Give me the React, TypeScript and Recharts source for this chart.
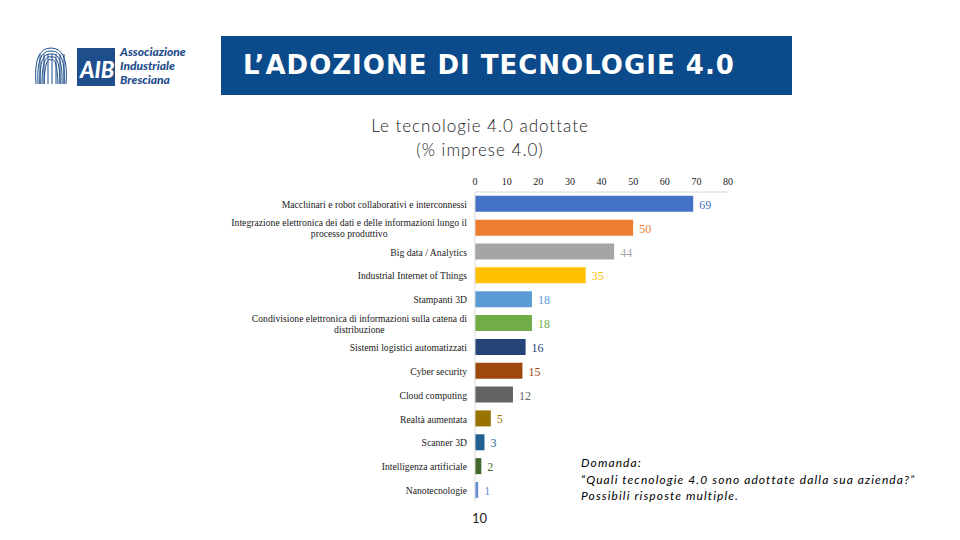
import React from 'react';
import { BarChart, Bar, XAxis, YAxis, Cell } from 'recharts';

const categories = [
  'Macchinari e robot collaborativi e interconnessi',
  'Integrazione elettronica dei dati e delle informazioni lungo il processo produttivo',
  'Big data / Analytics',
  'Industrial Internet of Things',
  'Stampanti 3D',
  'Condivisione elettronica di informazioni sulla catena di distribuzione',
  'Sistemi logistici automatizzati',
  'Cyber security',
  'Cloud computing',
  'Realtà aumentata',
  'Scanner 3D',
  'Intelligenza artificiale',
  'Nanotecnologie',
];
const values = [69, 50, 44, 35, 18, 18, 16, 15, 12, 5, 3, 2, 1];
const barColors = [
  '#4472C4', '#ED7D31', '#A5A5A5', '#FFC000', '#5B9BD5', '#70AD47',
  '#264478', '#9E480E', '#636363', '#997300', '#255E91', '#43682B', '#698ED0',
];
const xTicks = [0, 10, 20, 30, 40, 50, 60, 70, 80];

const data = categories.map((name, i) => ({ name, value: values[i] }));

const SERIF = '"Liberation Serif", "Times New Roman", serif';
const LABEL_FONT_SIZE = 9.7;
const LABEL_MAX_W = 248;

let ctx: CanvasRenderingContext2D | null = null;
function wrap(text: string): { lines: string[]; width: number } {
  if (!ctx && typeof document !== 'undefined') ctx = document.createElement('canvas').getContext('2d');
  if (!ctx) return { lines: [text], width: 0 };
  ctx.font = `${LABEL_FONT_SIZE}px "Liberation Serif"`;
  const words = text.split(' ');
  const lines: string[] = [];
  let cur = '';
  for (const w of words) {
    const t = cur ? cur + ' ' + w : w;
    if (cur && ctx.measureText(t).width > LABEL_MAX_W) {
      lines.push(cur);
      cur = w;
    } else cur = t;
  }
  if (cur) lines.push(cur);
  const width = Math.max(...lines.map((l) => ctx!.measureText(l).width));
  return { lines, width };
}

const CategoryTick = (props: any) => {
  const { x, y, payload } = props;
  const { lines, width } = wrap(String(payload.value));
  const lh = 11;
  const multi = lines.length > 1;
  const startY = y - ((lines.length - 1) * lh) / 2;
  const tx = multi ? x - width / 2 : x;
  return (
    <text
      x={tx}
      y={startY}
      textAnchor={multi ? 'middle' : 'end'}
      dominantBaseline="central"
      fontFamily={SERIF}
      fontSize={LABEL_FONT_SIZE}
      fill="#222"
    >
      {lines.map((l, i) => (
        <tspan key={i} x={tx} y={startY + i * lh}>
          {l}
        </tspan>
      ))}
    </text>
  );
};

const ValueLabel = (props: any) => {
  const { x, y, width, height, value, index } = props;
  return (
    <text
      x={x + width + 6}
      y={y + height / 2 + 1}
      dominantBaseline="central"
      fontFamily={SERIF}
      fontSize={12}
      fill={barColors[index]}
    >
      {value}
    </text>
  );
};

const Logo = () => (
  <svg width={170} height={50} style={{ position: 'absolute', left: 30, top: 40 }}>
    <g fill="none" stroke="#1F4E8C" strokeWidth={1}>
      {[0, 1, 2, 3, 4].map((k) => (
        <path key={k} d={`M ${6 + k * 2} 44 Q ${3 + k * 3} ${8 + k * 2} ${21} ${8 + k * 3} Q ${39 - k * 3} ${8 + k * 2} ${36 - k * 2} 44`} />
      ))}
      {[0, 1, 2, 3, 4, 5, 6].map((k) => (
        <line key={'v' + k} x1={10 + k * 4} y1={14} x2={10 + k * 4} y2={44} />
      ))}
    </g>
    <rect x={47} y={8} width={38} height={38} fill="#1F4E8C" />
    <text x={50} y={38} fontFamily="Lato, sans-serif" fontWeight={900} fontStyle="italic" fontSize={22} fill="#fff">
      AIB
    </text>
    <g fontFamily="Lato, sans-serif" fontWeight={900} fontStyle="italic" fontSize={12} fill="#1F4E8C">
      <text x={90} y={16}>Associazione</text>
      <text x={90} y={30}>Industriale</text>
      <text x={90} y={44}>Bresciana</text>
    </g>
  </svg>
);

export default function App() {
  return (
    <div style={{ position: 'absolute', left: 0, top: 0, width: 960, height: 540, background: '#fff', overflow: 'hidden' }}>
      <Logo />
      <div
        style={{
          position: 'absolute', left: 221, top: 36, width: 571, height: 59, background: '#0B4A8B',
        }}
      >
        <div
          style={{
            position: 'absolute', left: 22, top: 13, color: '#fff', fontFamily: '"DejaVu Sans", sans-serif',
            fontWeight: 700, fontSize: 26, lineHeight: '32px', letterSpacing: 1, whiteSpace: 'nowrap',
          }}
        >
          L’ADOZIONE DI TECNOLOGIE 4.0
        </div>
      </div>
      <div
        style={{
          position: 'absolute', left: 280, top: 114, width: 400, textAlign: 'center', fontFamily: 'Lato, sans-serif',
          fontWeight: 300, fontSize: 17, lineHeight: '24px', letterSpacing: 1, color: '#222',
        }}
      >
        Le tecnologie 4.0 adottate
        <br />
        (% imprese 4.0)
      </div>

      <div style={{ position: 'absolute', left: 0, top: 160 }}>
        <BarChart
          width={800}
          height={345}
          data={data}
          layout="vertical"
          margin={{ top: 0, right: 72, bottom: 3, left: 0 }}
          barCategoryGap="16%"
        >
          <XAxis
            type="number"
            orientation="top"
            domain={[0, 80]}
            ticks={xTicks}
            height={32}
            axisLine={{ stroke: '#D9D9D9' }}
            tickLine={false}
            tickSize={0}
            tickMargin={7}
            tick={{ fontFamily: SERIF, fontSize: 10, fill: '#222' }}
            interval={0}
          />
          <YAxis
            type="category"
            dataKey="name"
            width={475}
            axisLine={{ stroke: '#D9D9D9' }}
            tickLine={false}
            tickSize={0}
            tickMargin={8}
            tick={<CategoryTick />}
            interval={0}
          />
          <Bar dataKey="value" isAnimationActive={false} label={<ValueLabel />}>
            {data.map((_, i) => (
              <Cell key={i} fill={barColors[i]} />
            ))}
          </Bar>
        </BarChart>
      </div>

      <div
        style={{
          position: 'absolute', left: 581, top: 455, fontFamily: 'Lato, sans-serif', fontStyle: 'italic',
          fontWeight: 400, fontSize: 12, lineHeight: '16.5px', letterSpacing: 1.1, color: '#000', whiteSpace: 'nowrap',
        }}
      >
        Domanda:
        <br />
        “Quali tecnologie 4.0 sono adottate dalla sua azienda?”
        <br />
        Possibili risposte multiple.
      </div>
      <div
        style={{
          position: 'absolute', left: 472, top: 510, fontFamily: 'Lato, sans-serif', fontSize: 13, color: '#222',
        }}
      >
        10
      </div>
    </div>
  );
}
